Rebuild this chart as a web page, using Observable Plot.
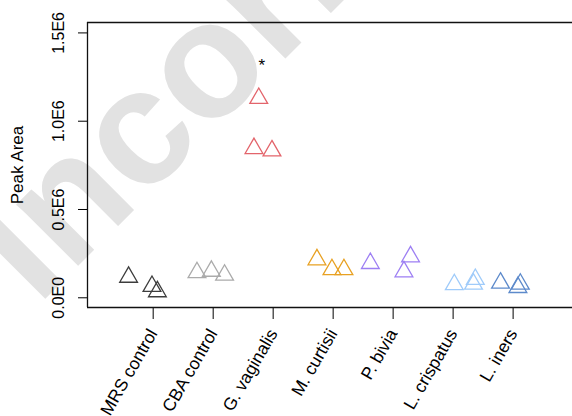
<!DOCTYPE html>
<html>
<head>
<meta charset="utf-8">
<script src="https://cdn.jsdelivr.net/npm/d3@7"></script>
<script src="https://cdn.jsdelivr.net/npm/@observablehq/plot@0.6"></script>
<style>
  html, body { margin: 0; padding: 0; background: #fff; overflow: hidden; }
  #chart svg { display: block; }
</style>
</head>
<body>
<div id="chart"></div>
<script>
// ---- data ----
const categories = ["MRS control", "CBA control", "G. vaginalis", "M. curtisii", "P. bivia", "L. crispatus", "L. iners"];
const seriesColors = ["#3d3d3d", "#ababab", "#e3646b", "#e8a122", "#9d7ff3", "#9fcbfa", "#5d8acb"];
const peakArea = [
  [117000, 65000, 35000],
  [143000, 151000, 129000],
  [1130000, 846000, 833000],
  [216000, 160000, 160000],
  [195000, 233000, 148000],
  [75000, 105000, 78000],
  [84000, 78000, 59000]
];
const jitter = [
  [-0.41, -0.02, 0.07],
  [-0.27, -0.03, 0.19],
  [-0.24, -0.32, -0.02],
  [-0.27, -0.02, 0.18],
  [-0.38, 0.29, 0.18],
  [0.02, 0.37, 0.34],
  [-0.21, 0.12, 0.08]
];
const significance = [{category: "G. vaginalis", offset: -0.19, value: 1315000, label: "*"}];
const yTickValues = [0, 500000, 1000000, 1500000];
const yTickLabels = ["0.0E0", "0.5E6", "1.0E6", "1.5E6"];
const yTitle = "Peak Area";
const watermark = "Incorrect";

const xDomain = [-0.095, 7.99];
const yDomain = [-55000, 1559000];

// ---- build table ----
const rows = [];
categories.forEach((c, i) => {
  peakArea[i].forEach((v, j) => {
    rows.push({category: c, pos: i + 1 + jitter[i][j], value: v, color: seriesColors[i]});
  });
});
const sig = significance.map(s => ({...s, pos: categories.indexOf(s.category) + 1 + s.offset}));
const catRows = categories.map((c, i) => ({category: c, pos: i + 1}));

const font = "'Liberation Sans', Arial, Helvetica, sans-serif";

const chart = Plot.plot({
  width: 572,
  height: 416,
  marginLeft: 87,
  marginRight: 0,
  marginTop: 22,
  marginBottom: 109,
  style: {fontFamily: font, fontSize: "16px", background: "#fff", color: "#000", overflow: "visible"},
  x: {domain: xDomain, ticks: catRows.map(d => d.pos), tickSize: 12, tickFormat: () => "", label: null},
  y: {domain: yDomain, ticks: yTickValues, tickSize: 9, tickFormat: () => "", label: null},
  color: {type: "identity"},
  marks: [
    Plot.text([watermark], {
      frameAnchor: "top-left", dx: -50, dy: 284, rotate: -45,
      text: d => d, textAnchor: "start", lineAnchor: "bottom",
      fontSize: 165, fontWeight: "bold", fill: "#e2e2e2"
    }),
    Plot.ruleX([xDomain[0]], {stroke: "#111", strokeWidth: 1.3}),
    Plot.ruleY([yDomain[0], yDomain[1]], {stroke: "#111", strokeWidth: 1.3}),
    Plot.dot(rows, {
      x: "pos", y: "value", symbol: "triangle", r: 6.6,
      stroke: "color", fill: "none", strokeWidth: 1.3
    }),
    Plot.text(sig, {x: "pos", y: "value", text: "label", fontSize: 17, fill: "#000"}),
    Plot.text(catRows, {
      x: "pos", frameAnchor: "bottom", dy: 23, rotate: -60, fontSize: 17.5,
      text: "category", textAnchor: "end", lineAnchor: "middle", fill: "#000"
    }),
    Plot.text(yTickValues, {
      y: d => d, frameAnchor: "left", dx: -24, rotate: -90, fontSize: 16,
      text: (d, i) => yTickLabels[i], textAnchor: "middle", lineAnchor: "bottom", fill: "#000"
    }),
    Plot.text([yTitle], {
      frameAnchor: "left", dx: -70, rotate: -90, text: d => d, fontSize: 17,
      textAnchor: "middle", lineAnchor: "middle", fill: "#000"
    })
  ]
});
document.getElementById("chart").appendChild(chart);
</script>
</body>
</html>
